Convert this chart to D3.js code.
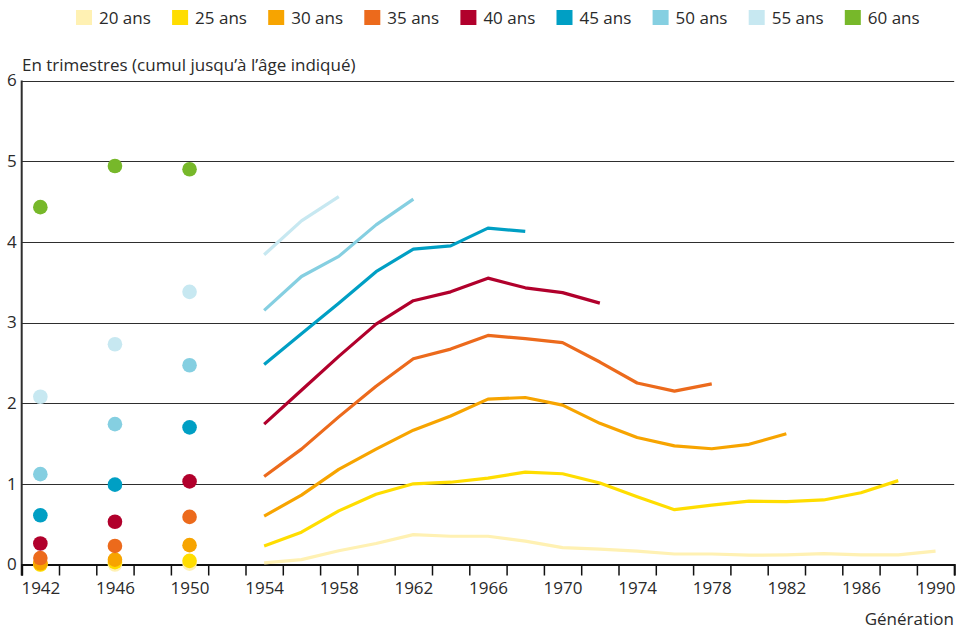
<!DOCTYPE html>
<html>
<head>
<meta charset="utf-8">
<script src="https://cdn.jsdelivr.net/npm/d3@7"></script>
<style>
  body { margin: 0; background: #fff; }
  text { font-family: "Open Sans", sans-serif; fill: #2a2a2a; }
</style>
</head>
<body>
<div id="chart"></div>
<script>
// legend / series
var ages = ["20 ans", "25 ans", "30 ans", "35 ans", "40 ans", "45 ans", "50 ans", "55 ans", "60 ans"];
var colors = ["#fff1b3", "#ffdd00", "#f7a400", "#ec6a1c", "#b1002c", "#009fc4", "#85cfe1", "#c7e8f1", "#77b82a"];

// isolated points (générations 1942, 1946, 1950)
var dotYears = [1942, 1946, 1950];
var dots20 = [0.00, 0.00, 0.01];
var dots25 = [0.00, 0.03, 0.045];
var dots30 = [0.015, 0.06, 0.24];
var dots35 = [0.08, 0.23, 0.59];
var dots40 = [0.26, 0.53, 1.03];
var dots45 = [0.61, 0.99, 1.70];
var dots50 = [1.12, 1.74, 2.47];
var dots55 = [2.08, 2.73, 3.38];
var dots60 = [4.43, 4.94, 4.90];

// lines, one value every 2 generations from 1954
var lineYears = [1954, 1956, 1958, 1960, 1962, 1964, 1966, 1968, 1970, 1972,
                 1974, 1976, 1978, 1980, 1982, 1984, 1986, 1988, 1990];
var line20 = [0.02, 0.06, 0.17, 0.26, 0.37, 0.35, 0.35, 0.29, 0.21, 0.19, 0.165, 0.13, 0.13, 0.115, 0.12, 0.135, 0.12, 0.12, 0.165];
var line25 = [0.23, 0.40, 0.665, 0.87, 1.00, 1.02, 1.07, 1.145, 1.125, 1.01, 0.84, 0.68, 0.735, 0.785, 0.78, 0.80, 0.89, 1.04];
var line30 = [0.60, 0.86, 1.18, 1.43, 1.665, 1.84, 2.05, 2.07, 1.975, 1.75, 1.575, 1.47, 1.435, 1.49, 1.62];
var line35 = [1.09, 1.43, 1.83, 2.21, 2.55, 2.67, 2.84, 2.80, 2.75, 2.51, 2.25, 2.15, 2.24];
var line40 = [1.74, 2.16, 2.58, 2.98, 3.27, 3.38, 3.55, 3.43, 3.37, 3.24];
var line45 = [2.48, 2.86, 3.24, 3.63, 3.91, 3.95, 4.17, 4.13];
var line50 = [3.15, 3.57, 3.82, 4.21, 4.53];
var line55 = [3.84, 4.26, 4.56];
var line60 = [];

var yTicks = [0, 1, 2, 3, 4, 5, 6];
var xTickYears = d3.range(1941, 1992, 2);
var xLabelYears = d3.range(1942, 1991, 4);

var allDots = [dots20, dots25, dots30, dots35, dots40, dots45, dots50, dots55, dots60];
var allLines = [line20, line25, line30, line35, line40, line45, line50, line55, line60];

var width = 964, height = 629;

var svg = d3.select("#chart").append("svg")
    .attr("width", width)
    .attr("height", height);

var x = d3.scaleLinear().domain([1941, 1991]).range([21.7, 954.2]);
var y = d3.scaleLinear().domain([0, 6]).range([564.5, 80.5]);

//LEGEND
var legend = svg.append("g").selectAll("g")
    .data(ages)
    .enter()
    .append("g")
    .attr("transform", (d, i) => "translate(" + (76 + i * 96.1) + ",10)");
legend.append("rect")
    .attr("width", 16).attr("height", 15)
    .attr("fill", (d, i) => colors[i]);
legend.append("text")
    .attr("x", 23).attr("y", 14)
    .style("font-size", "17px")
    .text(d => d);

// axis title
svg.append("text")
    .attr("x", 22).attr("y", 71)
    .style("font-size", "17px")
    .text("En trimestres (cumul jusqu\u2019à l\u2019âge indiqué)");

//GRID
svg.append("g").selectAll("line")
    .data(yTicks.filter(d => d > 0))
    .enter()
    .append("line")
    .attr("x1", x(1941)).attr("x2", x(1991))
    .attr("y1", d => Math.round(y(d)) + 0.5).attr("y2", d => Math.round(y(d)) + 0.5)
    .attr("stroke", "#2e2e2e").attr("stroke-width", 1);

// y labels
var yAxis = svg.append("g")
    .attr("transform", "translate(" + x(1941) + ",0)")
    .call(d3.axisLeft(y).tickValues(yTicks).tickSize(0).tickPadding(5).tickFormat(d3.format("d")));
yAxis.select(".domain").attr("stroke", "#2e2e2e").attr("stroke-width", 2)
    .attr("d", "M0," + y(6) + "V" + (y(0) + 11));
yAxis.selectAll("text").style("font-size", "17px").attr("fill", "#2a2a2a");

// x ticks
var xAxis = svg.append("g")
    .attr("transform", "translate(0," + y(0) + ")")
    .call(d3.axisBottom(x).tickValues(xTickYears).tickSize(11).tickFormat(""));
xAxis.select(".domain").attr("stroke", "#111").attr("stroke-width", 2);
xAxis.selectAll(".tick line").attr("stroke", "#111").attr("stroke-width", 1.5);

var xLabels = svg.append("g")
    .attr("transform", "translate(0," + y(0) + ")")
    .call(d3.axisBottom(x).tickValues(xLabelYears).tickSize(0).tickPadding(17).tickFormat(d3.format("d")));
xLabels.select(".domain").remove();
xLabels.selectAll("text").style("font-size", "17px").attr("fill", "#2a2a2a");

svg.append("text")
    .attr("x", 954).attr("y", 625)
    .attr("text-anchor", "end")
    .style("font-size", "17px")
    .text("Génération");

//LINES
var line = d3.line()
    .x((d, i) => x(lineYears[i]))
    .y(d => y(d));

svg.append("g").selectAll("path")
    .data(allLines.filter(l => l.length > 0).map((l, i) => ({ values: l, color: colors[i] })))
    .enter()
    .append("path")
    .attr("d", d => line(d.values))
    .attr("fill", "none")
    .attr("stroke", d => d.color)
    .attr("stroke-width", 3.2)
    .attr("stroke-linejoin", "round");

//DOTS
allDots.forEach(function (vals, k) {
    svg.append("g").selectAll("circle")
        .data(vals)
        .enter()
        .append("circle")
        .attr("cx", (d, i) => x(dotYears[i]))
        .attr("cy", d => y(d))
        .attr("r", 7.3)
        .attr("fill", colors[k]);
});
</script>
</body>
</html>
